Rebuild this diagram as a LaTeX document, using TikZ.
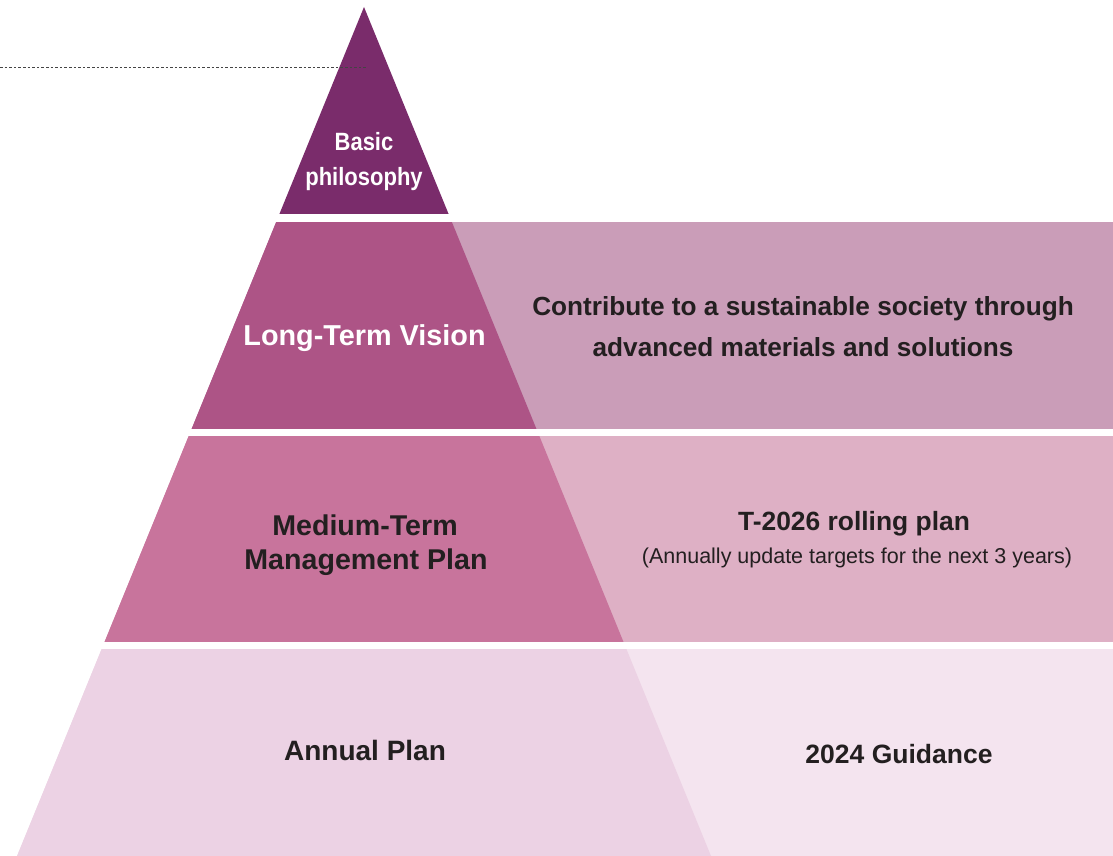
\documentclass[tikz,border=0pt]{standalone}
\usepackage{fontspec}
\setmainfont{Liberation Sans}
\newfontfamily\narrowfont[FakeStretch=0.88]{Liberation Sans}
\definecolor{apexpurple}{HTML}{7A2C6B}
\definecolor{visiondark}{HTML}{AD5486}
\definecolor{visionlight}{HTML}{CA9DB8}
\definecolor{mediumdark}{HTML}{C8749C}
\definecolor{mediumlight}{HTML}{DEB0C5}
\definecolor{annualdark}{HTML}{ECD2E4}
\definecolor{annuallight}{HTML}{F4E4EF}
\definecolor{inkdark}{HTML}{231F20}
\definecolor{guide}{HTML}{444444}
\begin{document}
\begin{tikzpicture}[x=1pt,y=-1pt,
  lbl/.style={inner sep=0pt,anchor=base},
  whitelbl/.style={lbl,text=white},
  darklbl/.style={lbl,text=inkdark},
  guideline/.style={draw=guide,line width=1pt,dash pattern=on 2.6pt off 2pt}]
\useasboundingbox (0,0) rectangle (1113,856);
\coordinate (apex) at (364,7);
\coordinate (baseL) at (17,856);
\coordinate (baseR) at (711,856);

% right-hand panels of each tier
\fill[visionlight] (0,222) rectangle (1113,429);
\fill[mediumlight] (0,436) rectangle (1113,642);
\fill[annuallight] (0,649) rectangle (1113,856);
% white on the left of the panels, outside the pyramid
\fill[white] (0,200) -- (apex) -- (baseL) -- (0,856) -- cycle;

% pyramid tiers
\begin{scope}
  \clip (apex) -- (baseR) -- (baseL) -- cycle;
  \fill[apexpurple] (0,0) rectangle (1113,214);
  \fill[visiondark] (0,222) rectangle (1113,429);
  \fill[mediumdark] (0,436) rectangle (1113,642);
  \fill[annualdark] (0,649) rectangle (1113,856);
\end{scope}

% dotted guide line
\coordinate (guideA) at (0,67.7);
\coordinate (guideB) at (366,67.7);
\draw[guideline] (guideA) -- (guideB);

% tier labels
\node[whitelbl,font=\narrowfont\bfseries\fontsize{25}{30}\selectfont] (basic) at (364,150.7) {Basic};
\node[whitelbl,font=\narrowfont\bfseries\fontsize{25}{30}\selectfont] (philosophy) at (364,185.5) {philosophy};
\node[whitelbl,font=\bfseries\fontsize{28.8}{34}\selectfont] (vision) at (364.5,345) {Long-Term Vision};
\node[darklbl,font=\bfseries\fontsize{28.6}{34}\selectfont] (medium) at (365,535.3) {Medium-Term};
\node[darklbl,font=\bfseries\fontsize{28.6}{34}\selectfont] (management) at (366,569) {Management Plan};
\node[darklbl,font=\bfseries\fontsize{28}{34}\selectfont] (annual) at (365,760.7) {Annual Plan};

% panel texts
\node[darklbl,font=\bfseries\fontsize{26.2}{32}\selectfont] (visiontext) at (803,315) {Contribute to a sustainable society through};
\node[darklbl,font=\bfseries\fontsize{26.2}{32}\selectfont] (visiontextb) at (803,356) {advanced materials and solutions};
\node[darklbl,font=\bfseries\fontsize{26.4}{30}\selectfont] (rolling) at (854,530) {T-2026 rolling plan};
\node[lbl,font=\mdseries\fontsize{21.5}{26}\selectfont,text=inkdark] (rollingnote) at (857,563) {(Annually update targets for the next 3 years)};
\node[darklbl,font=\bfseries\fontsize{26.5}{30}\selectfont] (guidance) at (899,763.3) {2024 Guidance};
\end{tikzpicture}
\end{document}
